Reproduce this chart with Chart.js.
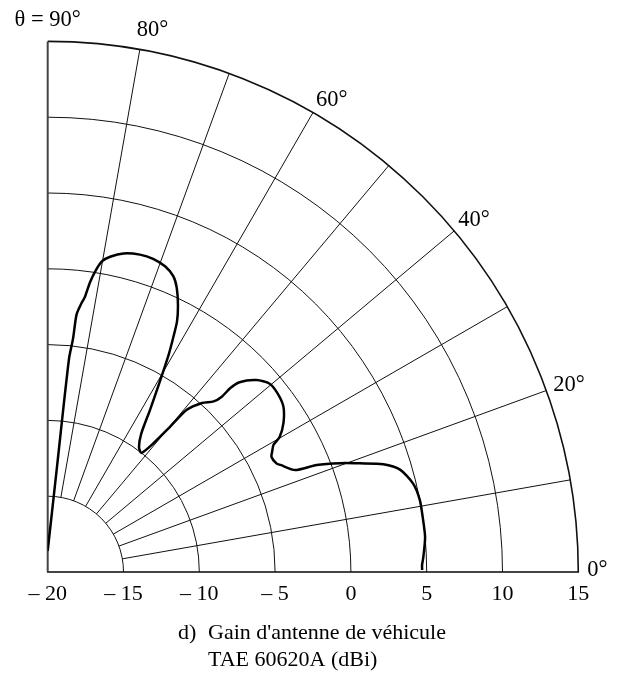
<!DOCTYPE html>
<html>
<head>
<meta charset="utf-8">
<script src="https://cdn.jsdelivr.net/npm/chart.js@4"></script>
<style>
  body { margin: 0; background: #fff; }
</style>
</head>
<body>
<canvas id="polar" width="618" height="680"></canvas>
<script>
// gain pattern: elevation angle (deg) and gain (dBi)
const angles = [90, 85, 84.3, 83.8, 83.6, 82.8, 82.3, 81.7, 81, 80.1,
  78.8, 76.6, 73.8, 71.4, 69, 67, 65.6, 64, 62.7, 61.8,
  60.9, 59.2, 57.7, 55.9, 53.8, 51.8, 50.6, 49.9, 49.4, 47.6,
  45.8, 45.2, 45.2, 44.7, 42.6, 40.3, 37.8, 35.1, 32.3, 30.2,
  29.4, 28.2, 27.2, 25.4, 24.7, 22.4, 21.7, 20.4, 19.2, 17.8,
  16.2, 13.6, 11, 8.4, 5.3, 2.3, 1.1, 0.3];
const gains = [-18.6, -13.3, -5.9, -4.5, -2.9, -2.1, -1.7, -0.7, 0.1, 0.8,
  1.2, 1.6, 1.8, 1.8, 1.6, 1.2, 0.6, -0.4, -1.4, -2.5,
  -3.6, -5.8, -7.4, -9.0, -9.8, -10.0, -9.0, -7.5, -5.9, -4.9,
  -4.3, -3.7, -2.9, -2.2, -1.3, -0.8, -0.8, -1.0, -1.6, -2.3,
  -2.9, -3.2, -3.4, -3.3, -3.1, -2.35, -0.9, 0.6, 1.8, 3.25,
  4.2, 4.8, 5.0, 5.0, 5.0, 4.8, 4.7, 4.7];

// radial axis: -20 dBi sits at the centre
const gainMin = -20;
const gainMax = 15;
const ringGains = [-15, -10, -5, 0, 5, 10, 15];
const spokeAngles = [10, 20, 30, 40, 50, 60, 70, 80];
const angleTicks = [90, 80, 60, 40, 20, 0];
const captionLines = ["Gain d'antenne de véhicule", "TAE 60620A (dBi)"];

const FONT = "'Liberation Serif', 'Times New Roman', serif";

const toXY = (deg, gain) => {
  const r = gain - gainMin;
  const a = (deg * Math.PI) / 180;
  return { x: r * Math.cos(a), y: r * Math.sin(a) };
};

const patternPoints = angles.map((a, i) => toXY(a, gains[i]));

const polarGrid = {
  id: "polarGrid",
  beforeDatasetsDraw(chart) {
    const ctx = chart.ctx;
    const xs = chart.scales.x;
    const ys = chart.scales.y;
    const pix = (p) => [xs.getPixelForValue(p.x), ys.getPixelForValue(p.y)];
    const cx = xs.getPixelForValue(0);
    const cy = ys.getPixelForValue(0);

    ctx.save();
    ctx.strokeStyle = "#111";
    ringGains.forEach((g) => {
      ctx.lineWidth = g === gainMax ? 1.6 : 1;
      ctx.beginPath();
      ctx.arc(cx, cy, xs.getPixelForValue(g - gainMin) - cx, -Math.PI / 2, 0);
      ctx.stroke();
    });

    // spokes only go from the first ring out
    ctx.lineWidth = 1;
    spokeAngles.forEach((a) => {
      const [x0, y0] = pix(toXY(a, ringGains[0]));
      const [x1, y1] = pix(toXY(a, gainMax));
      ctx.beginPath();
      ctx.moveTo(x0, y0);
      ctx.lineTo(x1, y1);
      ctx.stroke();
    });

    // theta = 90 axis
    ctx.strokeStyle = "#444";
    ctx.lineWidth = 2;
    ctx.beginPath();
    ctx.moveTo(cx, cy);
    ctx.lineTo(cx, ys.getPixelForValue(gainMax - gainMin));
    ctx.stroke();
    ctx.restore();
  },
  afterDraw(chart) {
    const ctx = chart.ctx;
    const xs = chart.scales.x;
    const ys = chart.scales.y;
    // nudges for each angle label away from the outer ring
    const nudge = { 90: [0, -21], 80: [-3, -19], 60: [3, -12], 40: [4, -11], 20: [7, -5], 0: [9, -2] };

    ctx.save();
    ctx.fillStyle = "#000";
    ctx.font = "22.5px " + FONT;
    ctx.textBaseline = "middle";
    angleTicks.forEach((a) => {
      const p = toXY(a, gainMax);
      const x = xs.getPixelForValue(p.x) + nudge[a][0];
      const y = ys.getPixelForValue(p.y) + nudge[a][1];
      ctx.textAlign = a === 90 ? "center" : "left";
      ctx.fillText(a === 90 ? "θ = 90°" : a + "°", x, y);
    });

    // caption
    ctx.textAlign = "left";
    ctx.font = "22px " + FONT;
    ctx.fillText("d)", 178, 633);
    ctx.fillText(captionLines[0], 208, 633);
    ctx.fillText(captionLines[1], 208, 660);
    ctx.restore();
  }
};

new Chart(document.getElementById("polar"), {
  type: "scatter",
  data: {
    datasets: [
      {
        data: patternPoints,
        showLine: true,
        borderColor: "#000",
        borderWidth: 2.5,
        pointRadius: 0,
        tension: 0.25,
        fill: false
      }
    ]
  },
  options: {
    responsive: false,
    animation: false,
    devicePixelRatio: 1,
    layout: { padding: { left: 47.7, right: 39.7, top: 41.4, bottom: 0 } },
    plugins: {
      legend: { display: false },
      tooltip: { enabled: false }
    },
    scales: {
      x: {
        type: "linear",
        min: 0,
        max: gainMax - gainMin,
        grid: { display: false, drawTicks: false },
        border: { display: true, color: "#444", width: 2 },
        ticks: {
          stepSize: 5,
          padding: 9,
          maxRotation: 0,
          autoSkip: false,
          color: "#000",
          font: { family: FONT, size: 22 },
          callback: (v) => {
            const g = v + gainMin;
            return g < 0 ? "– " + -g : String(g);
          }
        },
        afterFit: (s) => { s.height = 108; }
      },
      y: {
        type: "linear",
        display: false,
        min: 0,
        max: gainMax - gainMin
      }
    }
  },
  plugins: [polarGrid]
});
</script>
</body>
</html>
